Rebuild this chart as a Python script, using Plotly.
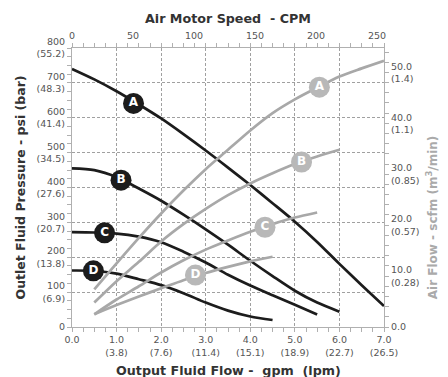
import plotly.graph_objects as go

# ---------------- data ----------------
# Fluid flow (gpm) and outlet pressure (psi) for curves A-D (black)
flow_A = [0.0, 0.5, 1.0, 1.5, 2.0, 2.5, 3.0, 3.5, 4.0, 4.5, 5.0, 5.5, 6.0, 6.5, 7.0]
psi_A = [740, 710, 676, 638, 598, 553, 506, 457, 407, 355, 302, 244, 181, 120, 60]
flow_B = [0.0, 0.5, 1.0, 1.5, 2.0, 2.5, 3.0, 3.5, 4.0, 4.5, 5.0, 5.5, 6.0]
psi_B = [455, 450, 430, 397, 362, 322, 280, 236, 190, 146, 104, 70, 44]
flow_C = [0.0, 0.5, 1.0, 1.5, 2.0, 2.5, 3.0, 3.5, 4.0, 4.5, 5.0, 5.5]
psi_C = [272, 271, 268, 259, 243, 216, 185, 150, 119, 91, 64, 36]
flow_D = [0.0, 0.5, 1.0, 1.5, 2.0, 2.5, 3.0, 3.5, 4.0, 4.5]
psi_D = [162, 161, 153, 137, 120, 97, 70, 47, 30, 20]

# Fluid flow (gpm) and air flow (scfm) for curves A-D (gray)
aflow_A = [0.5, 1.0, 1.5, 2.0, 2.5, 3.0, 3.5, 4.0, 4.5, 5.0, 5.5, 6.0, 6.5, 7.0]
scfm_A = [7.4, 12.5, 17.5, 22.3, 26.8, 31.0, 34.8, 38.6, 42.0, 44.7, 47.0, 49.2, 50.8, 52.3]
aflow_B = [0.5, 1.0, 1.5, 2.0, 2.5, 3.0, 3.5, 4.0, 4.5, 5.0, 5.5, 6.0]
scfm_B = [4.8, 9.0, 12.8, 16.8, 20.2, 23.2, 25.9, 28.2, 30.2, 32.0, 33.5, 34.8]
aflow_C = [0.5, 1.0, 1.5, 2.0, 2.5, 3.0, 3.5, 4.0, 4.5, 5.0, 5.5]
scfm_C = [2.5, 5.4, 8.0, 10.7, 13.1, 15.2, 17.0, 18.7, 20.2, 21.5, 22.5]
aflow_D = [0.5, 1.0, 1.5, 2.0, 2.5, 3.0, 3.5, 4.0, 4.5]
scfm_D = [2.5, 4.3, 6.0, 7.6, 9.2, 10.6, 11.8, 12.9, 13.8]

# Curve label positions
label_names = ["A", "B", "C", "D"]
label_flow_psi = [1.38, 1.1, 0.73, 0.48]
label_psi = [641, 421, 270, 161]
label_flow_air = [5.55, 5.15, 4.33, 2.77]
label_scfm = [47.1, 32.4, 19.6, 10.2]

# Tick labels
flow_ticks = [0, 1, 2, 3, 4, 5, 6, 7]
flow_ticktext = ["0.0", "1.0<br>(3.8)", "2.0<br>(7.6)", "3.0<br>(11.4)", "4.0<br>(15.1)",
                 "5.0<br>(18.9)", "6.0<br>(22.7)", "7.0<br>(26.5)"]
psi_ticks = [0, 100, 200, 300, 400, 500, 600, 700, 800]
psi_ticktext = ["0", "100<br>(6.9)", "200<br>(13.8)", "300<br>(20.7)", "400<br>(27.6)",
                "500<br>(34.5)", "600<br>(41.4)", "700<br>(48.3)", "800<br>(55.2)"]
scfm_ticks = [0, 10, 20, 30, 40, 50]
scfm_ticktext = ["0.0", "10.0<br>(0.28)", "20.0<br>(0.57)", "30.0<br>(0.85)", "40.0<br>(1.1)", "50.0<br>(1.4)"]
cpm_ticks = [0, 50, 100, 150, 200, 250]

# ---------------- styles ----------------
FONT = "DejaVu Sans"
BLACK = "#1c1c1c"
GRAY = "#a8a8a8"
GRAY_LABEL = "#b8b8b8"
AXIS = "#b0b0b0"
TICKFONT = dict(family=FONT, size=9.5, color="#555555")

fig = go.Figure()

for fx, fy in [(flow_A, psi_A), (flow_B, psi_B), (flow_C, psi_C), (flow_D, psi_D)]:
    fig.add_trace(go.Scatter(x=fx, y=fy, mode="lines",
                             line=dict(color=BLACK, width=2.7, shape="spline", smoothing=0.8),
                             xaxis="x", yaxis="y", hoverinfo="skip", showlegend=False))

for fx, fy in [(aflow_A, scfm_A), (aflow_B, scfm_B), (aflow_C, scfm_C), (aflow_D, scfm_D)]:
    fig.add_trace(go.Scatter(x=fx, y=fy, mode="lines",
                             line=dict(color=GRAY, width=2.7, shape="spline", smoothing=0.8),
                             xaxis="x", yaxis="y2", hoverinfo="skip", showlegend=False))

fig.add_trace(go.Scatter(x=label_flow_psi, y=label_psi, mode="markers+text", text=label_names,
                         textposition="middle center",
                         textfont=dict(family=FONT, size=12, color="white", weight="bold"),
                         marker=dict(size=21, color=BLACK, line=dict(width=0)),
                         xaxis="x", yaxis="y", hoverinfo="skip", showlegend=False))
fig.add_trace(go.Scatter(x=label_flow_air, y=label_scfm, mode="markers+text", text=label_names,
                         textposition="middle center",
                         textfont=dict(family=FONT, size=12, color="white", weight="bold"),
                         marker=dict(size=21, color=GRAY_LABEL, line=dict(width=0)),
                         xaxis="x", yaxis="y2", hoverinfo="skip", showlegend=False))

# invisible trace to create the top CPM axis
fig.add_trace(go.Scatter(x=cpm_ticks, y=[0] * len(cpm_ticks), mode="markers",
                         marker=dict(opacity=0), xaxis="x2", yaxis="y",
                         hoverinfo="skip", showlegend=False))

# page body has an 8px default margin, so the figure is 8px smaller on each side
fig.update_layout(
    width=440, height=369,
    margin=dict(l=64, r=64, t=40, b=50, autoexpand=False),
    paper_bgcolor="white", plot_bgcolor="white",
    font=dict(family=FONT),
    xaxis=dict(range=[0, 7], tickvals=flow_ticks, ticktext=flow_ticktext, tickfont=TICKFONT,
               showgrid=True, gridcolor="#a0a0a0", griddash="3px,2px", gridwidth=1,
               showline=True, linecolor=AXIS, linewidth=1, mirror="allticks",
               ticks="outside", ticklen=4, tickcolor=AXIS, automargin=False,
               minor=dict(dtick=0.25, ticks="outside", ticklen=4, tickcolor=AXIS, showgrid=False),
               zeroline=False),
    xaxis2=dict(range=[0, 255.7], overlaying="x", side="top", anchor="y",
                tickvals=cpm_ticks, tickfont=TICKFONT, showgrid=False, showline=False,
                ticks="", ticklabelstandoff=6, zeroline=False, automargin=False),
    yaxis=dict(range=[0, 800], tickvals=psi_ticks, ticktext=psi_ticktext, tickfont=TICKFONT,
               showgrid=True, gridcolor="#a0a0a0", griddash="3px,2px", gridwidth=1,
               showline=True, linecolor=AXIS, linewidth=1, mirror=False,
               ticks="outside", ticklen=4, tickcolor=AXIS, automargin=False,
               minor=dict(dtick=25, ticks="outside", ticklen=4, tickcolor=AXIS, showgrid=False),
               zeroline=False),
    yaxis2=dict(range=[0, 54.8], overlaying="y", side="right", anchor="x",
                tickvals=scfm_ticks, ticktext=scfm_ticktext, tickfont=TICKFONT,
                showgrid=False, showline=True, linecolor=AXIS, linewidth=1,
                ticks="outside", ticklen=4, tickcolor=AXIS, automargin=False,
                minor=dict(dtick=2, ticks="outside", ticklen=4, tickcolor=AXIS),
                zeroline=False),
    annotations=[
        dict(text="<b>Air Motor Speed  - CPM</b>", xref="paper", yref="paper", x=0.5, y=1,
             yshift=30, xanchor="center", yanchor="middle", showarrow=False,
             font=dict(family=FONT, size=12.7, color="#333333")),
        dict(text="<b>Output Fluid Flow -  gpm  (lpm)</b>", xref="paper", yref="paper", x=0.5, y=0,
             yshift=-43, xanchor="center", yanchor="middle", showarrow=False,
             font=dict(family=FONT, size=12.7, color="#333333")),
        dict(text="<b>Outlet Fluid Pressure - psi (bar)</b>", xref="paper", yref="paper", x=0, y=0.5,
             xshift=-52, xanchor="center", yanchor="middle", textangle=-90, showarrow=False,
             font=dict(family=FONT, size=12.5, color="#333333")),
        dict(text="<b>Air Flow - scfm (m<sup>3</sup>/min)</b>", xref="paper", yref="paper", x=1, y=0.39,
             xshift=48, xanchor="center", yanchor="middle", textangle=-90, showarrow=False,
             font=dict(family=FONT, size=12, color="#aaaaaa")),
    ],
)

fig.write_html("out.html")
